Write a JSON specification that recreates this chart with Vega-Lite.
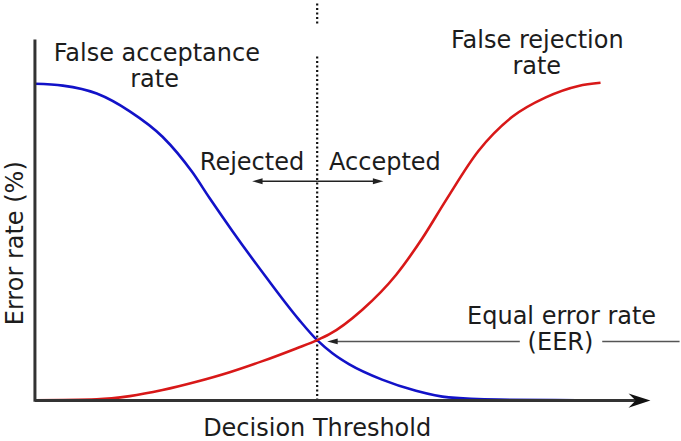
{
  "$schema": "https://vega.github.io/schema/vega-lite/v6.json",
  "width": 681,
  "height": 441,
  "autosize": {"type": "fit", "contains": "padding"},
  "padding": 0,
  "background": "white",
  "config": {"view": {"stroke": null}, "text": {"font": "DejaVu Sans", "fontSize": 24, "color": "#1c1c1c"}},
  "datasets": {
    "curves": [
      {"t": 0, "rate": 99.7, "curve": "FAR"},
      {"t": 4.95, "rate": 99.1, "curve": "FAR"},
      {"t": 10.95, "rate": 96.6, "curve": "FAR"},
      {"t": 16.8, "rate": 91.0, "curve": "FAR"},
      {"t": 22.6, "rate": 83.0, "curve": "FAR"},
      {"t": 27.9, "rate": 71.8, "curve": "FAR"},
      {"t": 30.9, "rate": 63.8, "curve": "FAR"},
      {"t": 35.0, "rate": 53.3, "curve": "FAR"},
      {"t": 41.0, "rate": 38.7, "curve": "FAR"},
      {"t": 46.8, "rate": 25.4, "curve": "FAR"},
      {"t": 50, "rate": 19.0, "curve": "FAR"},
      {"t": 52.7, "rate": 14.9, "curve": "FAR"},
      {"t": 55.7, "rate": 11.4, "curve": "FAR"},
      {"t": 61.5, "rate": 6.6, "curve": "FAR"},
      {"t": 67.5, "rate": 3.1, "curve": "FAR"},
      {"t": 73.3, "rate": 1.0, "curve": "FAR"},
      {"t": 82.2, "rate": 0.3, "curve": "FAR"},
      {"t": 95.9, "rate": 0.1, "curve": "FAR"},
      {"t": 0, "rate": 0.1, "curve": "FRR"},
      {"t": 10.95, "rate": 0.4, "curve": "FRR"},
      {"t": 16.8, "rate": 1.4, "curve": "FRR"},
      {"t": 22.6, "rate": 3.3, "curve": "FRR"},
      {"t": 28.6, "rate": 5.9, "curve": "FRR"},
      {"t": 34.5, "rate": 8.9, "curve": "FRR"},
      {"t": 40.3, "rate": 12.4, "curve": "FRR"},
      {"t": 46.3, "rate": 16.4, "curve": "FRR"},
      {"t": 50, "rate": 19.0, "curve": "FRR"},
      {"t": 52.1, "rate": 20.8, "curve": "FRR"},
      {"t": 58.0, "rate": 28.6, "curve": "FRR"},
      {"t": 64.0, "rate": 39.6, "curve": "FRR"},
      {"t": 68.6, "rate": 51.0, "curve": "FRR"},
      {"t": 72.8, "rate": 63.0, "curve": "FRR"},
      {"t": 78.6, "rate": 78.6, "curve": "FRR"},
      {"t": 84.5, "rate": 89.2, "curve": "FRR"},
      {"t": 90.5, "rate": 95.4, "curve": "FRR"},
      {"t": 96.3, "rate": 99.0, "curve": "FRR"},
      {"t": 100.2, "rate": 100, "curve": "FRR"}
    ],
    "segments": [
      {"kind": "axis", "x": 0, "x2": 0, "y": -0.4, "y2": 113.6},
      {"kind": "axis", "x": 0, "x2": 107.5, "y": 0, "y2": 0},
      {"kind": "dotted", "x": 50, "x2": 50, "y": 0, "y2": 109},
      {"kind": "dotted", "x": 50, "x2": 50, "y": 118.6, "y2": 125.4},
      {"kind": "arrow", "x": 50, "x2": 39.4, "y": 69, "y2": 69},
      {"kind": "arrow", "x": 50, "x2": 60.8, "y": 69, "y2": 69},
      {"kind": "eer", "x": 52.7, "x2": 85.9, "y": 18.6, "y2": 18.6},
      {"kind": "eer", "x": 100.5, "x2": 114.2, "y": 18.6, "y2": 18.6}
    ],
    "heads": [
      {"kind": "small", "x": 39.4, "y": 69, "angle": 180},
      {"kind": "small", "x": 60.8, "y": 69, "angle": 0},
      {"kind": "small", "x": 52.7, "y": 18.6, "angle": 180},
      {"kind": "axis", "x": 107.1, "y": 0, "angle": 0}
    ],
    "labels": [
      {"pos": "center", "text": "False acceptance", "x": 21.6, "y": 109.0},
      {"pos": "center", "text": "rate", "x": 21.2, "y": 100.9},
      {"pos": "center", "text": "False rejection", "x": 89.0, "y": 113.2},
      {"pos": "center", "text": "rate", "x": 88.9, "y": 105.1},
      {"pos": "right", "text": "Rejected", "x": 47.7, "y": 74.9},
      {"pos": "left", "text": "Accepted", "x": 52.1, "y": 74.9},
      {"pos": "center", "text": "Equal error rate", "x": 93.3, "y": 26.3},
      {"pos": "center", "text": "(EER)", "x": 93.1, "y": 18.0},
      {"pos": "xtitle", "text": "Decision Threshold", "x": 50, "y": -11.0},
      {"pos": "ytitle", "text": "Error rate (%)", "x": -3.4, "y": 49.5}
    ]
  },
  "layer": [
    {
      "data": {"name": "segments"},
      "transform": [{"filter": "datum.kind === 'dotted'"}],
      "mark": {"type": "rule", "stroke": "#111111", "strokeWidth": 2.2, "strokeDash": [2, 2.5]},
      "encoding": {
        "x": {"field": "x", "type": "quantitative", "scale": {"domain": [-6.19, 114.1], "nice": false, "zero": false}, "axis": null},
        "x2": {"field": "x2"},
        "y": {"field": "y", "type": "quantitative", "scale": {"domain": [-11.15, 125.4], "nice": false, "zero": false}, "axis": null},
        "y2": {"field": "y2"}
      }
    },
    {
      "data": {"name": "segments"},
      "transform": [{"filter": "datum.kind === 'arrow'"}],
      "mark": {"type": "rule", "stroke": "#222222", "strokeWidth": 1.6},
      "encoding": {
        "x": {"field": "x", "type": "quantitative", "axis": null},
        "x2": {"field": "x2"},
        "y": {"field": "y", "type": "quantitative", "axis": null},
        "y2": {"field": "y2"}
      }
    },
    {
      "data": {"name": "segments"},
      "transform": [{"filter": "datum.kind === 'eer'"}],
      "mark": {"type": "rule", "stroke": "#555555", "strokeWidth": 1.6},
      "encoding": {
        "x": {"field": "x", "type": "quantitative", "axis": null},
        "x2": {"field": "x2"},
        "y": {"field": "y", "type": "quantitative", "axis": null},
        "y2": {"field": "y2"}
      }
    },
    {
      "data": {"name": "curves"},
      "mark": {"type": "line", "strokeWidth": 2.6, "interpolate": "monotone"},
      "encoding": {
        "x": {"field": "t", "type": "quantitative", "axis": null},
        "y": {"field": "rate", "type": "quantitative", "axis": null},
        "color": {"field": "curve", "type": "nominal", "scale": {"domain": ["FAR", "FRR"], "range": ["#1212c8", "#d81818"]}, "legend": null}
      }
    },
    {
      "data": {"name": "segments"},
      "transform": [{"filter": "datum.kind === 'axis'"}],
      "mark": {"type": "rule", "stroke": "#333333", "strokeWidth": 3},
      "encoding": {
        "x": {"field": "x", "type": "quantitative", "axis": null},
        "x2": {"field": "x2"},
        "y": {"field": "y", "type": "quantitative", "axis": null},
        "y2": {"field": "y2"}
      }
    },
    {
      "data": {"name": "heads"},
      "transform": [{"filter": "datum.kind === 'small'"}],
      "mark": {"type": "point", "shape": "M -1 -0.55 L 1 0 L -1 0.55 Z", "filled": true, "color": "#222222", "size": 110, "opacity": 1},
      "encoding": {
        "x": {"field": "x", "type": "quantitative", "axis": null},
        "y": {"field": "y", "type": "quantitative", "axis": null},
        "angle": {"field": "angle", "type": "quantitative", "scale": null}
      }
    },
    {
      "data": {"name": "heads"},
      "transform": [{"filter": "datum.kind === 'axis'"}],
      "mark": {"type": "point", "shape": "M -1 -0.65 L 1 0 L -1 0.65 L -0.35 0 Z", "filled": true, "color": "#111111", "size": 480, "opacity": 1},
      "encoding": {
        "x": {"field": "x", "type": "quantitative", "axis": null},
        "y": {"field": "y", "type": "quantitative", "axis": null},
        "angle": {"field": "angle", "type": "quantitative", "scale": null}
      }
    },
    {
      "data": {"name": "labels"},
      "transform": [{"filter": "datum.pos === 'center'"}],
      "mark": {"type": "text", "align": "center", "baseline": "middle"},
      "encoding": {
        "x": {"field": "x", "type": "quantitative", "axis": null},
        "y": {"field": "y", "type": "quantitative", "axis": null},
        "text": {"field": "text"}
      }
    },
    {
      "data": {"name": "labels"},
      "transform": [{"filter": "datum.pos === 'right'"}],
      "mark": {"type": "text", "align": "right", "baseline": "middle"},
      "encoding": {
        "x": {"field": "x", "type": "quantitative", "axis": null},
        "y": {"field": "y", "type": "quantitative", "axis": null},
        "text": {"field": "text"}
      }
    },
    {
      "data": {"name": "labels"},
      "transform": [{"filter": "datum.pos === 'left'"}],
      "mark": {"type": "text", "align": "left", "baseline": "middle"},
      "encoding": {
        "x": {"field": "x", "type": "quantitative", "axis": null},
        "y": {"field": "y", "type": "quantitative", "axis": null},
        "text": {"field": "text"}
      }
    },
    {
      "data": {"name": "labels"},
      "transform": [{"filter": "datum.pos === 'xtitle'"}],
      "mark": {"type": "text", "align": "center", "baseline": "alphabetic"},
      "encoding": {
        "x": {"field": "x", "type": "quantitative", "axis": null},
        "y": {"field": "y", "type": "quantitative", "axis": null},
        "text": {"field": "text"}
      }
    },
    {
      "data": {"name": "labels"},
      "transform": [{"filter": "datum.pos === 'ytitle'"}],
      "mark": {"type": "text", "align": "center", "baseline": "middle", "angle": 270},
      "encoding": {
        "x": {"field": "x", "type": "quantitative", "axis": null},
        "y": {"field": "y", "type": "quantitative", "axis": null},
        "text": {"field": "text"}
      }
    }
  ]
}
